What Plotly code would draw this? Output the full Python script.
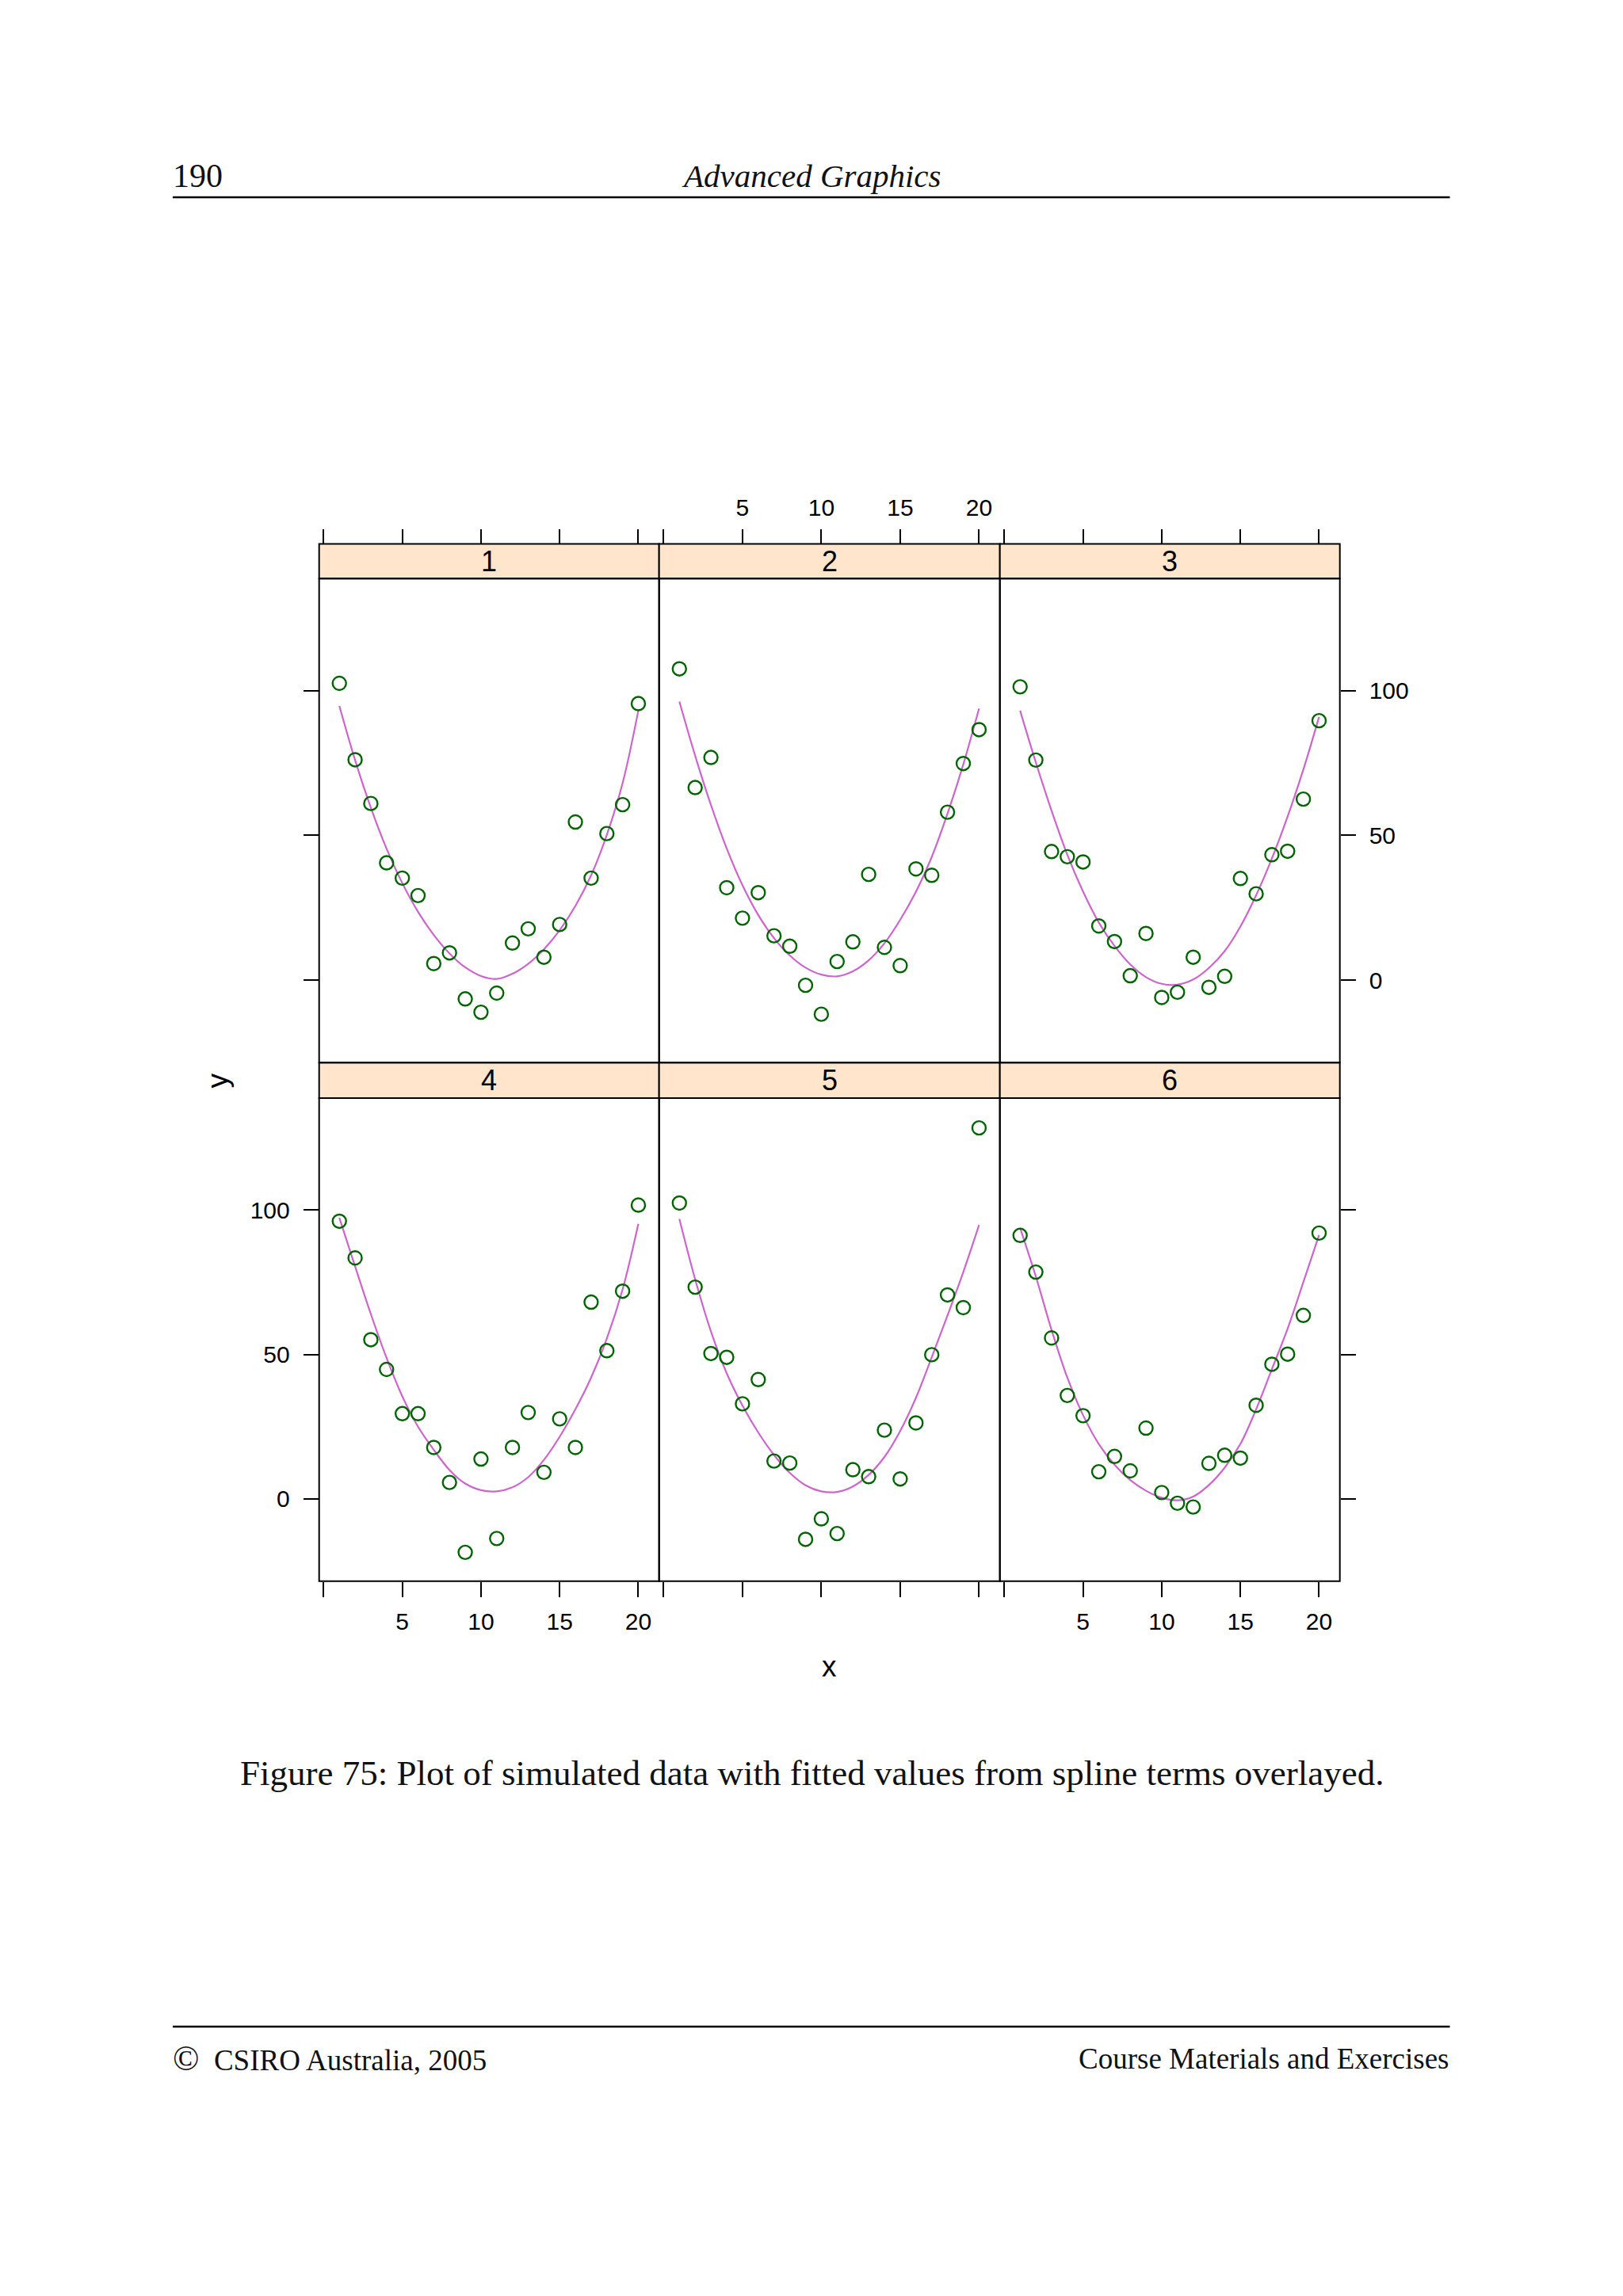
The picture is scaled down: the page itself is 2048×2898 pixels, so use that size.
import plotly.graph_objects as go

# ---------------- data ----------------
x_vals = [1, 2, 3, 4, 5, 6, 7, 8, 9, 10, 11, 12, 13, 14, 15, 16, 17, 18, 19, 20]
panel_labels = ["1", "2", "3", "4", "5", "6"]

y_obs_1 = [102.5, 76.1, 61.0, 40.5, 35.2, 29.2, 5.7, 9.4, -6.5, -11.1, -4.5, 12.8, 17.7, 7.9, 19.2, 54.6, 35.2, 50.6, 60.6, 95.5]
y_obs_2 = [107.5, 66.5, 76.9, 31.9, 21.4, 30.2, 15.3, 11.7, -1.8, -11.8, 6.4, 13.2, 36.5, 11.3, 5.0, 38.4, 36.2, 58.0, 74.8, 86.5]
y_obs_3 = [101.3, 76.0, 44.4, 42.6, 40.8, 18.7, 13.3, 1.5, 16.1, -6.0, -4.2, 7.9, -2.5, 1.3, 35.1, 29.8, 43.3, 44.5, 62.5, 89.6]
y_obs_4 = [96.1, 83.4, 55.1, 44.8, 29.5, 29.5, 17.8, 5.7, -18.5, 13.8, -13.7, 17.8, 29.9, 9.2, 27.7, 17.8, 68.1, 51.3, 71.9, 101.7]
y_obs_5 = [102.4, 73.3, 50.3, 49.0, 32.9, 41.3, 13.1, 12.4, -14.0, -6.9, -12.0, 10.1, 7.7, 23.8, 6.9, 26.3, 49.9, 70.6, 66.2, 128.4]
y_obs_6 = [91.2, 78.5, 55.7, 35.8, 28.8, 9.4, 14.7, 9.7, 24.5, 2.2, -1.5, -2.8, 12.3, 15.1, 14.1, 32.4, 46.6, 50.1, 63.5, 92.0]

y_fit_1 = [94.7, 76.0, 59.6, 45.4, 33.5, 23.6, 15.6, 9.2, 4.4, 1.4, 0.4, 2.2, 5.6, 10.6, 17.2, 25.6, 36.2, 50.2, 68.0, 93.1]
y_fit_2 = [96.2, 77.5, 60.5, 45.5, 32.8, 22.5, 14.5, 8.5, 4.3, 1.9, 1.3, 3.0, 6.8, 12.7, 20.8, 30.5, 42.5, 57.5, 74.5, 93.8]
y_fit_3 = [93.1, 75.2, 58.5, 43.3, 30.6, 19.9, 11.8, 5.4, 1.0, -1.3, -1.6, 0.2, 4.2, 10.0, 18.5, 29.3, 42.0, 56.5, 72.7, 90.9]
y_fit_4 = [97.3, 80.5, 64.0, 48.8, 35.5, 25.0, 17.0, 10.0, 5.3, 3.0, 2.6, 4.0, 7.5, 13.5, 21.5, 31.0, 42.0, 55.5, 72.5, 95.2]
y_fit_5 = [96.9, 76.0, 58.0, 43.5, 32.3, 23.0, 15.2, 9.0, 4.7, 2.6, 2.4, 4.3, 8.3, 14.5, 23.5, 35.0, 49.0, 63.5, 78.5, 94.8]
y_fit_6 = [93.8, 77.0, 58.5, 42.0, 29.0, 19.0, 11.8, 6.5, 2.8, 0.4, -0.5, 0.8, 4.8, 10.8, 19.0, 31.0, 44.9, 58.9, 75.0, 91.3]

x_tick_vals = [0, 5, 10, 15, 20]
x_tick_text = ["", "5", "10", "15", "20"]
y_tick_vals = [0, 50, 100]
y_tick_text = ["0", "50", "100"]

obs_series = [y_obs_1, y_obs_2, y_obs_3, y_obs_4, y_obs_5, y_obs_6]
fit_series = [y_fit_1, y_fit_2, y_fit_3, y_fit_4, y_fit_5, y_fit_6]

# ---------------- layout constants (pixels) ----------------
W, H = 2048, 2898
col_px = [(402.7, 831.7), (831.7, 1261.7), (1261.7, 1690.7)]
panel_py = [(730.2, 1341.2), (1386.1, 1995.8)]
strip_py = [(686.6, 730.2), (1341.2, 1386.1)]
X_RANGE = [-0.285, 21.32]
Y_RANGE = [-28.5, 138.7]

def px(x):
    return x / W

def py(y):
    return 1 - y / H

SANS = "Liberation Sans, Arial, sans-serif"
SERIF = "Liberation Serif, Times New Roman, serif"
PT_COLOR = "#006400"
LINE_COLOR = "#CC66CC"
STRIP_FILL = "#FFE5CC"

fig = go.Figure()
layout = dict(
    width=W, height=H,
    margin=dict(l=0, r=0, t=0, b=0),
    paper_bgcolor="white", plot_bgcolor="white",
    showlegend=False,
    shapes=[], annotations=[],
)

for i in range(6):
    r, c = divmod(i, 3)
    ax = "" if i == 0 else str(i + 1)
    xa, ya = "x" + ax, "y" + ax

    fig.add_trace(go.Scatter(
        x=x_vals, y=fit_series[i], mode="lines", xaxis=xa, yaxis=ya,
        line=dict(color=LINE_COLOR, width=2.2, shape="spline", smoothing=1.0),
        hoverinfo="skip"))
    fig.add_trace(go.Scatter(
        x=x_vals, y=obs_series[i], mode="markers", xaxis=xa, yaxis=ya,
        marker=dict(symbol="circle-open", size=17, color=PT_COLOR,
                    line=dict(width=2.4, color=PT_COLOR))))

    x0, x1 = col_px[c]
    p_top, p_bot = panel_py[r]
    s_top, s_bot = strip_py[r]

    x_labels = (i in (1, 3, 5))
    layout["xaxis" + ax] = dict(
        domain=[px(x0), px(x1)], range=X_RANGE,
        tickvals=x_tick_vals, ticktext=x_tick_text,
        ticks="outside", ticklen=19, tickwidth=2, tickcolor="black",
        showticklabels=x_labels, side="top" if r == 0 else "bottom",
        anchor="free", position=py(s_top) if r == 0 else py(p_bot),
        showgrid=False, zeroline=False, showline=False,
        tickfont=dict(family=SANS, size=30, color="black"),
        ticklabelstandoff=5,
    )
    if c == 1:
        yax = dict(ticks="", showticklabels=False)
    else:
        y_labels = (i == 3) or (i == 2)
        yax = dict(
            tickvals=y_tick_vals, ticktext=y_tick_text,
            ticks="outside", ticklen=19, tickwidth=2, tickcolor="black",
            showticklabels=y_labels, side="left" if c == 0 else "right",
            tickfont=dict(family=SANS, size=30, color="black"),
            ticklabelstandoff=11,
        )
    yax.update(domain=[py(p_bot), py(p_top)], range=Y_RANGE, anchor=xa,
               showgrid=False, zeroline=False, showline=False)
    layout["yaxis" + ax] = yax

    # strip and panel frame
    layout["shapes"].append(dict(type="rect", xref="paper", yref="paper",
                                 x0=px(x0), x1=px(x1), y0=py(s_bot), y1=py(s_top),
                                 fillcolor=STRIP_FILL, line=dict(color="black", width=2),
                                 layer="below"))
    layout["shapes"].append(dict(type="rect", xref="paper", yref="paper",
                                 x0=px(x0), x1=px(x1), y0=py(p_bot), y1=py(p_top),
                                 fillcolor="rgba(0,0,0,0)", line=dict(color="black", width=2),
                                 layer="above"))
    layout["annotations"].append(dict(
        text=panel_labels[i], xref="paper", yref="paper",
        x=px((x0 + x1) / 2), y=py((s_top + s_bot) / 2),
        xanchor="center", yanchor="middle", showarrow=False,
        font=dict(family=SANS, size=36, color="black")))

# axis titles
layout["annotations"].append(dict(text="y", xref="paper", yref="paper",
                                  x=px(273.5), y=py(1364), textangle=-90,
                                  xanchor="center", yanchor="middle", showarrow=False,
                                  font=dict(family=SANS, size=37, color="black")))
layout["annotations"].append(dict(text="x", xref="paper", yref="paper",
                                  x=px(1046.7), y=py(2103), xanchor="center", yanchor="middle",
                                  showarrow=False, font=dict(family=SANS, size=37, color="black")))

# page header / caption / footer
page_font = dict(family=SERIF, color="#111111")
layout["annotations"] += [
    dict(text="190", xref="paper", yref="paper", x=px(216), y=py(222),
         xanchor="left", yanchor="middle", showarrow=False, font=dict(page_font, size=42)),
    dict(text="<i>Advanced Graphics</i>", xref="paper", yref="paper", x=px(1024), y=py(222),
         xanchor="center", yanchor="middle", showarrow=False, font=dict(page_font, size=41)),
    dict(text="Figure 75: Plot of simulated data with fitted values from spline terms overlayed.",
         xref="paper", yref="paper", x=px(1024), y=py(2238),
         xanchor="center", yanchor="middle", showarrow=False, font=dict(page_font, size=45)),
    dict(text="<span style='font-size:44px'>©</span>  CSIRO Australia, 2005", xref="paper", yref="paper",
         x=px(216), y=py(2598),
         xanchor="left", yanchor="middle", showarrow=False, font=dict(page_font, size=37)),
    dict(text="Course Materials and Exercises", xref="paper", yref="paper", x=px(1831), y=py(2598),
         xanchor="right", yanchor="middle", showarrow=False, font=dict(page_font, size=37)),
]
layout["shapes"] += [
    dict(type="line", xref="paper", yref="paper", x0=px(218), x1=px(1829.5),
         y0=py(249), y1=py(249), line=dict(color="black", width=2.5)),
    dict(type="line", xref="paper", yref="paper", x0=px(218), x1=px(1829.5),
         y0=py(2558), y1=py(2558), line=dict(color="black", width=2.5)),
]

fig.update_layout(**layout)
fig.write_html("out.html", config={"displayModeBar": False},
               post_script="document.body.style.margin='0';document.body.style.overflow='hidden';")
